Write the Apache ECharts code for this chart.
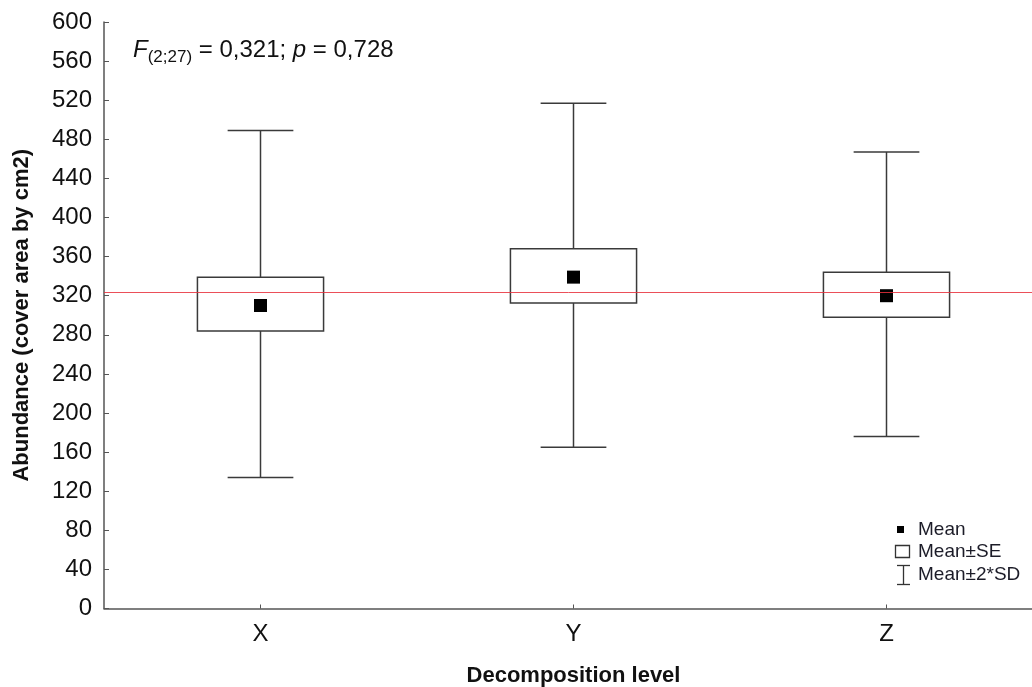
<!DOCTYPE html>
<html><head><meta charset="utf-8">
<script src="https://cdn.jsdelivr.net/npm/echarts@6/dist/echarts.min.js"></script>
<style>html,body{margin:0;padding:0;background:#fff}#c{width:1032px;height:687px}</style>
</head><body><div id="c"></div>
<script>
// ---- data ----
const categories = ['X', 'Y', 'Z'];
const means  = [310, 339, 320];
const seLow  = [284, 312.5, 298];
const seHigh = [339, 368, 344];
const sdLow  = [134, 165, 176];
const sdHigh = [489, 517, 467];
const grandMean = 324;
const yMin = 0, yMax = 600, yInterval = 40;
const legendLabels = ['Mean', 'Mean±SE', 'Mean±2*SD'];

const FONT = "'Liberation Sans', Arial, sans-serif";
const chart = echarts.init(document.getElementById('c'), null, {renderer: 'canvas'});

const seriesData = categories.map((c, i) => [i, means[i], seLow[i], seHigh[i], sdLow[i], sdHigh[i]]);

function renderItem(params, api) {
  const i = api.value(0);
  const pMean = api.coord([i, api.value(1)]);
  const pSeL = api.coord([i, api.value(2)]);
  const pSeH = api.coord([i, api.value(3)]);
  const pSdL = api.coord([i, api.value(4)]);
  const pSdH = api.coord([i, api.value(5)]);
  const band = api.size([1, 0])[0];
  const boxW = band * 0.403;
  const capW = band * 0.21;
  const x = pMean[0];
  const stroke = {stroke: '#3a3a3a', lineWidth: 1.5, fill: null};
  const sq = 13;
  return {
    type: 'group',
    children: [
      {type: 'line', shape: {x1: x, y1: pSdH[1], x2: x, y2: pSeH[1]}, style: stroke},
      {type: 'line', shape: {x1: x, y1: pSeL[1], x2: x, y2: pSdL[1]}, style: stroke},
      {type: 'line', shape: {x1: x - capW / 2, y1: pSdH[1], x2: x + capW / 2, y2: pSdH[1]}, style: stroke},
      {type: 'line', shape: {x1: x - capW / 2, y1: pSdL[1], x2: x + capW / 2, y2: pSdL[1]}, style: stroke},
      {type: 'rect', shape: {x: x - boxW / 2, y: pSeH[1], width: boxW, height: pSeL[1] - pSeH[1]}, style: {stroke: '#3a3a3a', lineWidth: 1.5, fill: '#fff'}},
      {type: 'rect', shape: {x: x - sq / 2, y: pMean[1] - sq / 2, width: sq, height: sq}, style: {fill: '#000'}}
    ]
  };
}

// annotation pieces measured for placement
const ctx = document.createElement('canvas').getContext('2d');
function w(text, font) { ctx.font = font; return ctx.measureText(text).width; }
const pieces = [
  {t: 'F', fs: 24, it: true, cy: 50},
  {t: '(2;27)', fs: 17, it: false, cy: 57},
  {t: ' = 0,321; ', fs: 24, it: false, cy: 50},
  {t: 'p', fs: 24, it: true, cy: 50},
  {t: ' = 0,728', fs: 24, it: false, cy: 50}
];
let ax = 133;
const annot = pieces.map(p => {
  const el = {type: 'text', x: ax, y: p.cy, style: {text: p.t, fontFamily: FONT, fontSize: p.fs, fontStyle: p.it ? 'italic' : 'normal', fill: '#111', verticalAlign: 'middle'}};
  ax += w(p.t, (p.it ? 'italic ' : '') + p.fs + 'px ' + FONT);
  return el;
});

const LS = {stroke: '#333', lineWidth: 1.3};
const legendEls = [
  {type: 'rect', shape: {x: 897, y: 526, width: 7, height: 7}, style: {fill: '#000'}},
  {type: 'rect', shape: {x: 895.5, y: 545.5, width: 14, height: 12}, style: {fill: '#fff', stroke: '#333', lineWidth: 1.3}},
  {type: 'line', shape: {x1: 897, y1: 565.5, x2: 910, y2: 565.5}, style: LS},
  {type: 'line', shape: {x1: 903.5, y1: 565.5, x2: 903.5, y2: 584.5}, style: LS},
  {type: 'line', shape: {x1: 897, y1: 584.5, x2: 910, y2: 584.5}, style: LS},
  {type: 'text', x: 918, y: 530, style: {text: legendLabels[0], fontFamily: FONT, fontSize: 19, fill: '#1c1c28', verticalAlign: 'middle'}},
  {type: 'text', x: 918, y: 552, style: {text: legendLabels[1], fontFamily: FONT, fontSize: 19, fill: '#1c1c28', verticalAlign: 'middle'}},
  {type: 'text', x: 918, y: 575, style: {text: legendLabels[2], fontFamily: FONT, fontSize: 19, fill: '#1c1c28', verticalAlign: 'middle'}}
];

chart.setOption({
  animation: false,
  backgroundColor: '#fff',
  grid: {left: 104, top: 22, width: 939, height: 586.5, outerBoundsMode: 'none', containLabel: false},
  xAxis: {
    type: 'category',
    data: categories,
    boundaryGap: true,
    name: 'Decomposition level',
    nameLocation: 'middle',
    nameGap: 56,
    nameTextStyle: {fontFamily: FONT, fontSize: 22, fontWeight: 'bold', color: '#111'},
    axisLine: {lineStyle: {color: '#555', width: 1.5}},
    axisTick: {show: true, alignWithLabel: true, inside: true, length: 4, lineStyle: {color: '#555'}},
    axisLabel: {fontFamily: FONT, fontSize: 24, color: '#111', margin: 14}
  },
  yAxis: {
    type: 'value',
    min: yMin, max: yMax, interval: yInterval,
    name: 'Abundance (cover area by cm2)',
    nameLocation: 'middle',
    nameGap: 71,
    nameTextStyle: {fontFamily: FONT, fontSize: 22, fontWeight: 'bold', color: '#111'},
    axisLine: {show: true, lineStyle: {color: '#555', width: 1.5}},
    axisTick: {show: true, inside: true, length: 5, lineStyle: {color: '#555'}},
    axisLabel: {fontFamily: FONT, fontSize: 24, color: '#111', margin: 12},
    splitLine: {show: false}
  },
  series: [{
    type: 'custom',
    renderItem: renderItem,
    data: seriesData,
    encode: {x: 0, y: [1, 2, 3, 4, 5]},
    z: 3,
    markLine: {
      silent: true,
      symbol: 'none',
      label: {show: false},
      emphasis: {disabled: true},
      lineStyle: {color: '#e8303c', width: 1, type: 'solid', opacity: 0.85},
      data: [{yAxis: grandMean}],
      z: 5
    }
  }],
  graphic: annot.concat(legendEls)
});
</script></body></html>
